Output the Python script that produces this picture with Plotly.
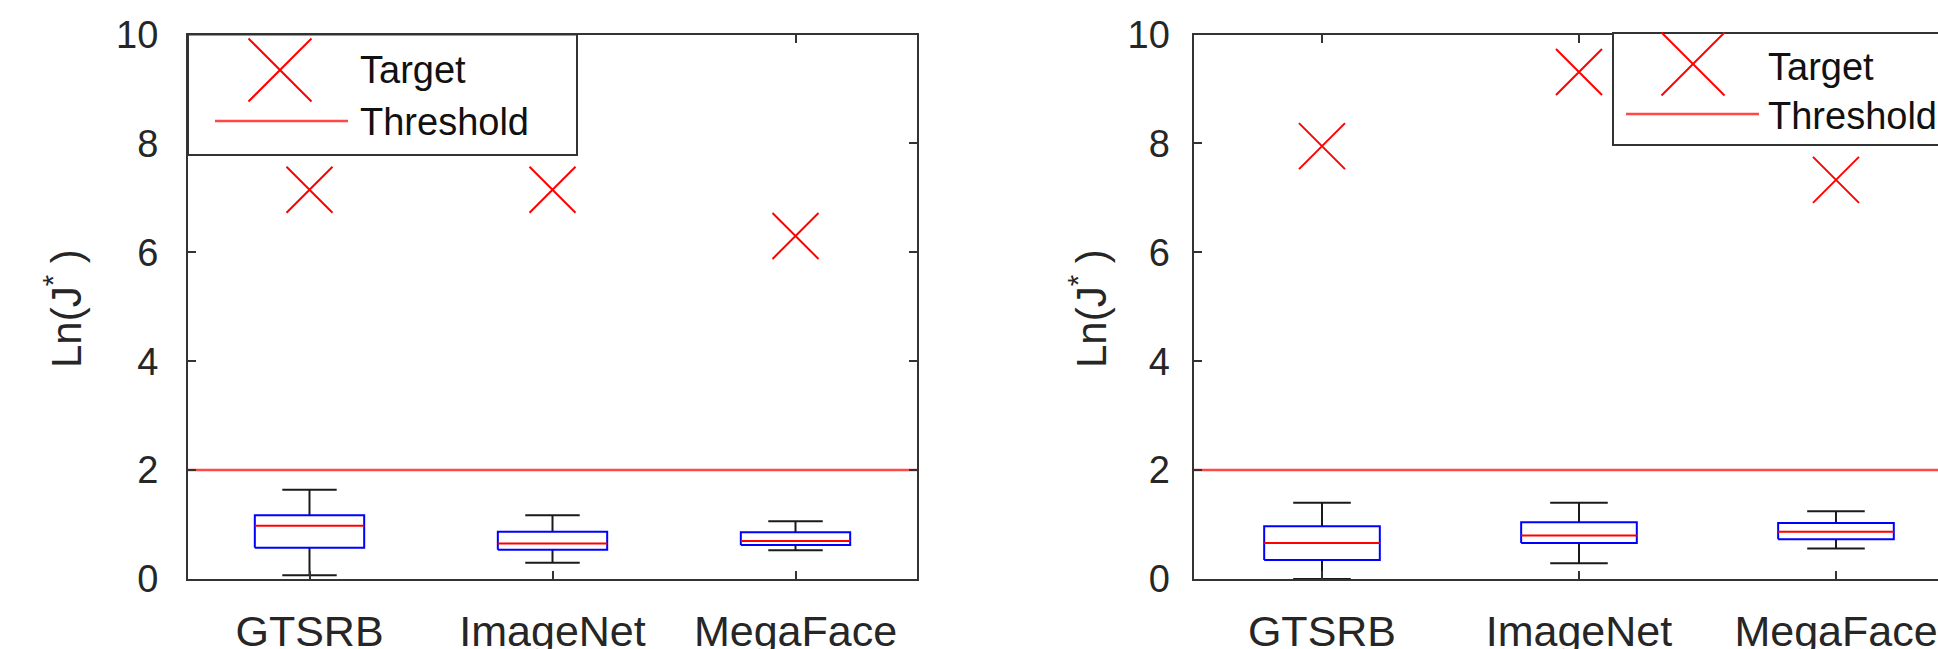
import plotly.graph_objects as go

W, H = 1938, 649

categories = ["GTSRB", "ImageNet", "MegaFace"]
y_ticks = [0, 2, 4, 6, 8, 10]
threshold = 2.0

# Left panel
left_target = [7.15, 7.15, 6.30]
left_upper = [1.64, 1.17, 1.06]
left_q3 = [1.17, 0.87, 0.86]
left_median = [0.98, 0.65, 0.70]
left_q1 = [0.575, 0.535, 0.625]
left_lower = [0.07, 0.30, 0.53]

# Right panel
right_target = [7.95, 9.31, 7.33]
right_upper = [1.40, 1.40, 1.245]
right_q3 = [0.97, 1.04, 1.03]
right_median = [0.66, 0.80, 0.87]
right_q1 = [0.35, 0.66, 0.73]
right_lower = [0.0, 0.29, 0.56]

FONT = "Liberation Sans, Arial, Helvetica, sans-serif"
INK = "#262626"
RED = "rgb(255,0,0)"
BLUE = "rgb(0,0,255)"

BOX_HALF = 0.225
CAP_HALF = 0.112


def px(x):
    return x / W


def py(y):
    return 1 - y / H


def panel_traces(xa, ya, upper, q3, med, q1, lower, target, x_end):
    pos = list(range(1, len(categories) + 1))
    bx, by, mx, my, wx, wy = [], [], [], [], [], []
    for p, u, a, m, b, lo in zip(pos, upper, q3, med, q1, lower):
        bx += [p - BOX_HALF, p + BOX_HALF, p + BOX_HALF, p - BOX_HALF, p - BOX_HALF, None]
        by += [b, b, a, a, b, None]
        mx += [p - BOX_HALF, p + BOX_HALF, None]
        my += [m, m, None]
        wx += [p, p, None, p, p, None,
               p - CAP_HALF, p + CAP_HALF, None, p - CAP_HALF, p + CAP_HALF, None]
        wy += [a, u, None, b, lo, None, u, u, None, lo, lo, None]
    common = dict(xaxis=xa, yaxis=ya, showlegend=False, hoverinfo="skip")
    return [
        go.Scatter(x=wx, y=wy, mode="lines", line=dict(color="#1a1a1a", width=2), **common),
        go.Scatter(x=bx, y=by, mode="lines", line=dict(color=BLUE, width=2), **common),
        go.Scatter(x=mx, y=my, mode="lines", line=dict(color=RED, width=2), **common),
        go.Scatter(x=[0.5, x_end], y=[threshold, threshold], mode="lines",
                   line=dict(color="rgba(255,40,40,0.85)", width=2.5), **common),
        go.Scatter(x=pos, y=target, mode="markers",
                   marker=dict(symbol="x-thin-open", size=46,
                               line=dict(color=RED, width=2), color=RED),
                   **common),
    ]


fig = go.Figure()

right_x_end = 3.397
for t in panel_traces("x", "y", left_upper, left_q3, left_median, left_q1,
                      left_lower, left_target, 3.5):
    fig.add_trace(t)
for t in panel_traces("x2", "y2", right_upper, right_q3, right_median, right_q1,
                      right_lower, right_target, right_x_end):
    fig.add_trace(t)

axis_common = dict(
    showline=True, linecolor="#333333", linewidth=2,
    ticks="inside", ticklen=8, tickwidth=1.5, tickcolor="#333333",
    showgrid=False, zeroline=False, automargin=False,
)
xfont = dict(family=FONT, size=43, color=INK)
yfont = dict(family=FONT, size=38, color=INK)

y_top, y_bot = 34.5, 579
fig.update_layout(
    width=W, height=H,
    margin=dict(l=0, r=0, t=0, b=0, autoexpand=False),
    paper_bgcolor="white", plot_bgcolor="white",
    xaxis=dict(domain=[px(188), px(917)], range=[0.5, 3.5],
               tickvals=[1, 2, 3], ticktext=categories, mirror="ticks",
               anchor="y", ticklabelstandoff=13, tickfont=xfont, **axis_common),
    yaxis=dict(domain=[py(y_bot), py(y_top)], range=[0, 10],
               tickvals=y_ticks, mirror="ticks", anchor="x",
               ticklabelstandoff=20, tickfont=yfont, **axis_common),
    xaxis2=dict(domain=[px(1193.5), 1.0], range=[0.5, right_x_end],
                tickvals=[1, 2, 3], ticktext=categories, mirror="ticks",
                anchor="y2", ticklabelstandoff=13, tickfont=xfont, **axis_common),
    yaxis2=dict(domain=[py(y_bot), py(y_top)], range=[0, 10],
                tickvals=y_ticks, mirror=False, anchor="x2",
                ticklabelstandoff=14, tickfont=yfont, **axis_common),
)

# Y-axis titles
for xc in (63, 1088):
    fig.add_annotation(
        x=px(xc), y=py(309), xref="paper", yref="paper",
        text="Ln(J<sup>*</sup> )", textangle=-90, showarrow=False,
        font=dict(family=FONT, size=42, color=INK),
        xanchor="center", yanchor="middle",
    )


# Legend boxes: white frame over the data, X glyph, threshold line, labels
def draw_legend(x0, y0, x1, y1, xc, yc, lx0, lx1, ly, tx, ty1, ty2):
    fig.add_shape(type="rect", xref="paper", yref="paper",
                  x0=px(x0), x1=px(x1), y0=py(y1), y1=py(y0),
                  line=dict(color="#333333", width=2), fillcolor="white",
                  layer="above")
    s = 31.5
    fig.add_shape(type="line", xref="paper", yref="paper",
                  x0=px(xc - s), x1=px(xc + s), y0=py(yc - s), y1=py(yc + s),
                  line=dict(color=RED, width=2), layer="above")
    fig.add_shape(type="line", xref="paper", yref="paper",
                  x0=px(xc - s), x1=px(xc + s), y0=py(yc + s), y1=py(yc - s),
                  line=dict(color=RED, width=2), layer="above")
    fig.add_shape(type="line", xref="paper", yref="paper",
                  x0=px(lx0), x1=px(lx1), y0=py(ly), y1=py(ly),
                  line=dict(color="rgba(255,40,40,0.85)", width=2.5), layer="above")
    for txt, ty in (("Target", ty1), ("Threshold", ty2)):
        fig.add_annotation(x=px(tx), y=py(ty), xref="paper", yref="paper",
                           text=txt, showarrow=False, xanchor="left",
                           yanchor="middle",
                           font=dict(family=FONT, size=38, color="#111111"))


draw_legend(188, 34.5, 577, 155, 280, 70, 215, 348, 121, 358, 70, 122)
draw_legend(1613, 33, 2002, 145, 1693, 64, 1626, 1759, 114, 1766, 67, 116)

fig.write_html("out.html")
